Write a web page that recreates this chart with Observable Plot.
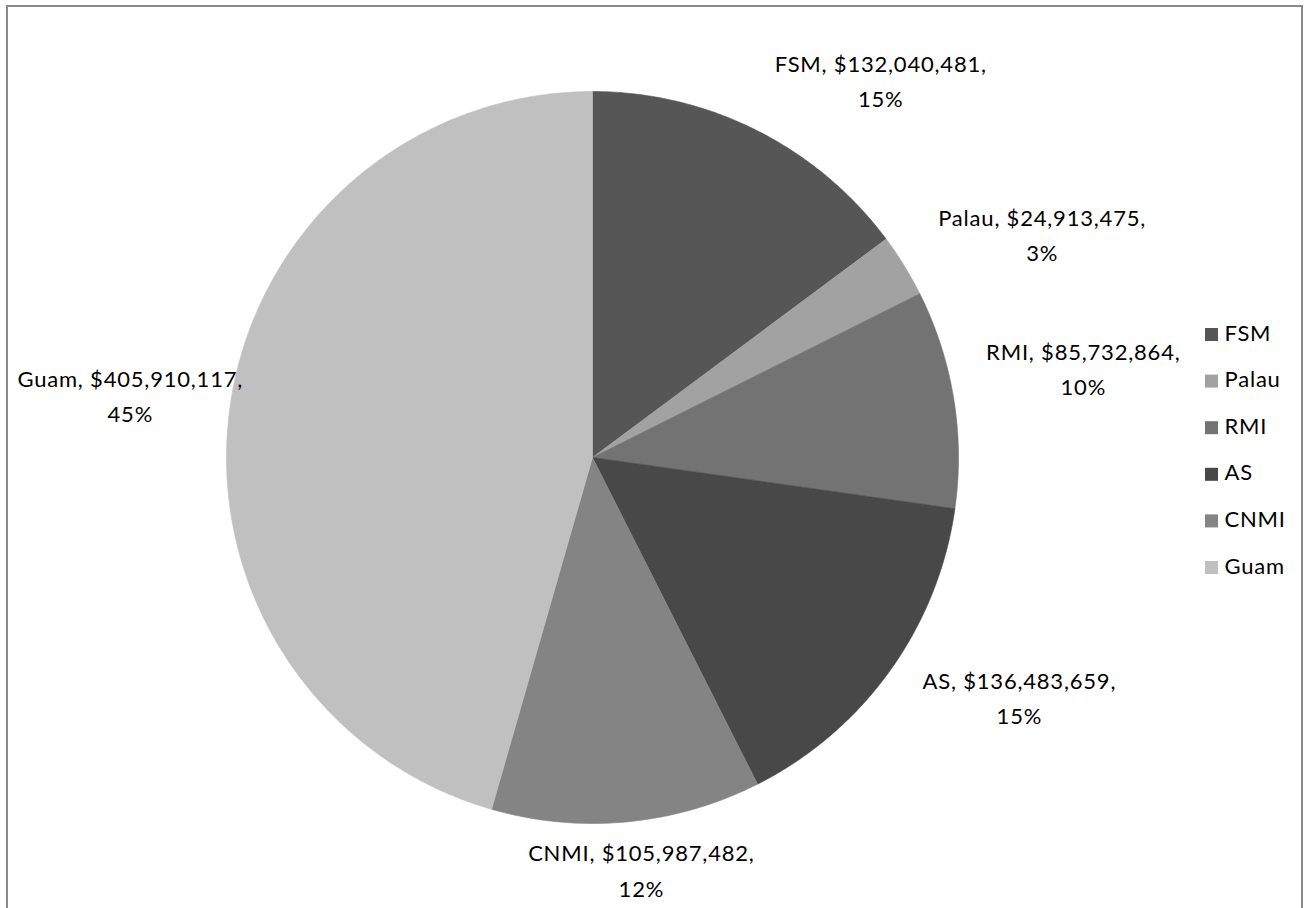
<!DOCTYPE html>
<html>
<head>
<meta charset="utf-8">
<script src="https://cdn.jsdelivr.net/npm/d3@7"></script>
<script src="https://cdn.jsdelivr.net/npm/@observablehq/plot@0.6"></script>
<style>
  html, body { margin: 0; padding: 0; background: #fff; }
  #wrap { position: relative; width: 1305px; height: 908px; overflow: hidden; }
  #frame { position: absolute; left: 6px; top: 5px; width: 1297px; height: 920px; border: 2px solid #8a8a8a; box-sizing: border-box; }
  #chart { position: absolute; left: 0; top: 0; }
  #chart svg text { letter-spacing: 0.8px; }
</style>
</head>
<body>
<div id="wrap"><div id="frame"></div><div id="chart"></div></div>
<script>
// ---- data ----
const names = ["FSM", "Palau", "RMI", "AS", "CNMI", "Guam"];
const amounts = [132040481, 24913475, 85732864, 136483659, 105987482, 405910117];
const percents = [15, 3, 10, 15, 12, 45];
const colors = ["#565656", "#a2a2a2", "#737373", "#484848", "#848484", "#c0c0c0"];

// ---- layout ----
const W = 1305, H = 908;
const cx = 592, cy = 457, R = 366;
const FONT = "Lato, 'DejaVu Sans', sans-serif";
const FS = 22;
const LS = 0.8;
const LEFT_LIMIT = 17, RIGHT_LIMIT = 1180;
const toUx = px => (px - cx) / R;
const toUy = py => (py - cy) / R;

const total = d3.sum(amounts);
let acc = 0;
const slices = names.map((name, i) => {
  const a0 = acc / total * 2 * Math.PI;
  acc += amounts[i];
  const a1 = acc / total * 2 * Math.PI;
  return {name, a0, a1, amount: amounts[i], pct: percents[i]};
});

// polygon points for each slice (unit radius, y downward)
const pts = [];
for (const s of slices) {
  pts.push({name: s.name, x: 0, y: 0});
  const n = Math.max(2, Math.ceil((s.a1 - s.a0) / (Math.PI / 360)));
  for (let k = 0; k <= n; k++) {
    const a = s.a0 + (s.a1 - s.a0) * k / n;
    pts.push({name: s.name, x: Math.sin(a), y: -Math.cos(a)});
  }
  pts.push({name: s.name, x: 0, y: 0});
}

// label positions
const ctx = document.createElement("canvas").getContext("2d");
ctx.font = `${FS}px ${FONT}`;
const tw = t => ctx.measureText(t).width + t.length * LS;
const fmt = d3.format(",");
const labels = slices.map(s => {
  const line1 = `${s.name}, $${fmt(s.amount)},`;
  const line2 = `${s.pct}%`;
  const w = Math.max(tw(line1), tw(line2));
  const am = (s.a0 + s.a1) / 2;
  const dx = Math.sin(am), dy = -Math.cos(am);
  const off = R + 40;
  let px = cx + dx * off;
  if (dx > 0.3) px += w / 2;
  else if (dx < -0.3) px -= w / 2;
  else px += dx * w / 2;
  const clamped = px + w / 2 > RIGHT_LIMIT || px - w / 2 < LEFT_LIMIT;
  px = Math.max(LEFT_LIMIT + w / 2, Math.min(RIGHT_LIMIT - w / 2, px));
  let py = cy + dy * off + dy * 12 - 6;
  if (clamped && dx > 0) py -= 18;
  return {x: toUx(px), y: toUy(py), text: line1 + "\n" + line2};
});

// legend
const legend = names.map((name, i) => ({
  name,
  x1: toUx(1205), x2: toUx(1218),
  y1: toUy(328 + i * 46.6), y2: toUy(341 + i * 46.6),
  tx: toUx(1224), ty: toUy(333 + i * 46.6)
}));

const chart = Plot.plot({
  width: W,
  height: H,
  margin: 0,
  style: {fontFamily: FONT, background: "transparent"},
  x: {domain: [toUx(0), toUx(W)], range: [0, W], axis: null},
  y: {domain: [toUy(0), toUy(H)], range: [0, H], axis: null},
  color: {domain: names, range: colors},
  marks: [
    Plot.line(pts, {x: "x", y: "y", z: "name", fill: "name", stroke: "name", strokeWidth: 0.6, curve: "linear"}),
    Plot.text(labels, {x: "x", y: "y", text: "text", textAnchor: "middle", lineAnchor: "middle", lineHeight: 1.6, fontSize: FS, fill: "#000"}),
    Plot.rect(legend, {x1: "x1", x2: "x2", y1: "y1", y2: "y2", fill: "name"}),
    Plot.text(legend, {x: "tx", y: "ty", text: "name", textAnchor: "start", lineAnchor: "middle", fontSize: FS, fill: "#000"})
  ]
});
document.getElementById("chart").appendChild(chart);
</script>
</body>
</html>
